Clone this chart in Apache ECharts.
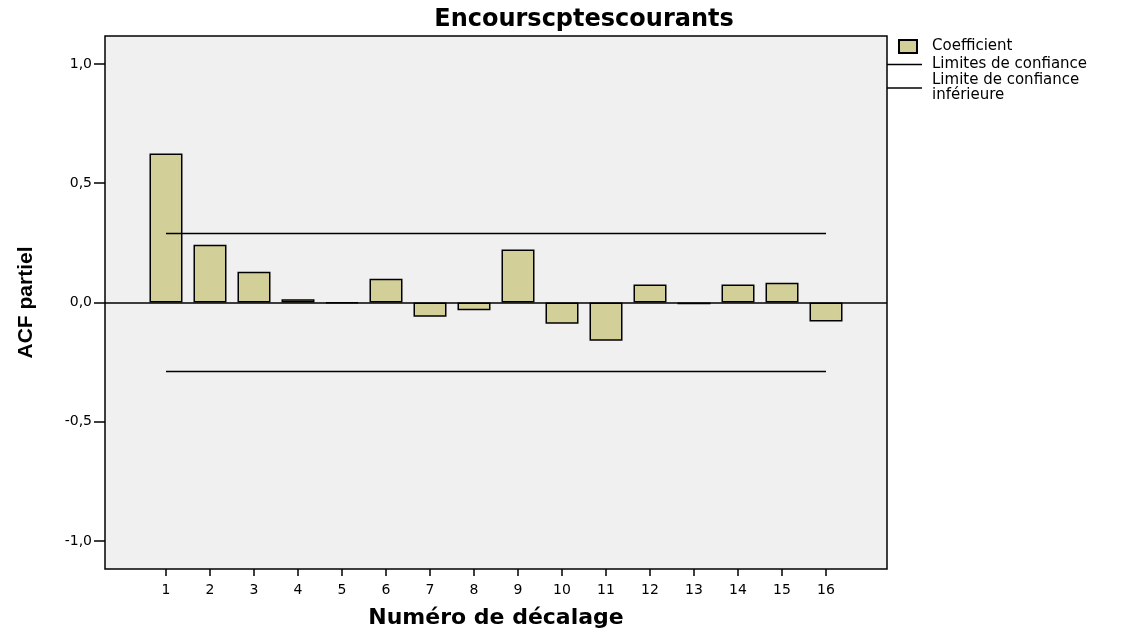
<!DOCTYPE html>
<html>
<head>
<meta charset="utf-8">
<title>Encourscptescourants</title>
<script src="https://cdn.jsdelivr.net/npm/echarts@6/dist/echarts.min.js"></script>
<style>
    html, body { margin: 0; padding: 0; background: #fff; }
    #chart { width: 1128px; height: 634px; }
</style>
</head>
<body>
<div id="chart"></div>
<script>
// numéros de décalage et ACF partiel
const lags = [1, 2, 3, 4, 5, 6, 7, 8, 9, 10, 11, 12, 13, 14, 15, 16];
const pacf = [0.625, 0.242, 0.129, 0.014, -0.003, 0.100, -0.060, -0.033,
              0.222, -0.089, -0.160, 0.075, -0.007, 0.075, 0.083, -0.080];
const confLimits = [0.289, -0.289];
const yTicks = [-1, -0.5, 0, 0.5, 1];

const chart = echarts.init(document.getElementById('chart'));

const fmtComma = v => v.toFixed(1).replace('.', ',');
const lineEnds = v => [[lags[0], v], [lags[lags.length - 1], v]];

// petit trait noir pour les limites dans la légende
const lineIcon = name => ({
    name: name,
    icon: 'rect',
    itemStyle: {color: '#000', borderWidth: 0}
});

const option = {
    backgroundColor: '#ffffff',
    animation: false,
    title: {
        text: 'Encourscptescourants',
        left: 584,
        top: 8,
        textAlign: 'center',
        padding: 0,
        textStyle: {
            fontFamily: 'DejaVu Sans',
            fontSize: 24,
            fontWeight: 'bold',
            color: '#000'
        }
    },
    legend: [
        {
            data: [{name: 'Coefficient', icon: 'rect'}],
            left: 898,
            top: 39,
            padding: 0,
            orient: 'vertical',
            itemWidth: 18,
            itemHeight: 13,
            selectedMode: false,
            textStyle: {
                fontFamily: 'DejaVu Sans',
                fontSize: 15,
                color: '#000',
                padding: [0, 0, 0, 10]
            }
        },
        {
            data: [lineIcon('Limites de confiance'), lineIcon('Limite de confiance inférieure')],
            left: 887,
            top: 57,
            padding: 0,
            orient: 'vertical',
            itemWidth: 35,
            itemHeight: 1.5,
            itemGap: 1,
            selectedMode: false,
            formatter: name => name === 'Limite de confiance inférieure'
                ? 'Limite de confiance\ninférieure' : name,
            textStyle: {
                fontFamily: 'DejaVu Sans',
                fontSize: 15,
                lineHeight: 15,
                color: '#000',
                padding: [0, 0, 0, 5]
            }
        }
    ],
    grid: {
        show: true,
        left: 105,
        right: 241,
        top: 36,
        bottom: 62,
        backgroundColor: '#f0f0f0',
        borderColor: '#000',
        borderWidth: 1.5
    },
    xAxis: {
        type: 'value',
        min: -0.386,
        max: 17.386,
        name: 'Numéro de décalage',
        nameLocation: 'middle',
        nameGap: 38,
        nameTextStyle: {
            fontFamily: 'DejaVu Sans',
            fontSize: 22,
            fontWeight: 'bold',
            color: '#000'
        },
        axisLine: {show: false, onZero: false},
        splitLine: {show: false},
        axisTick: {
            show: true,
            length: 7,
            customValues: lags,
            lineStyle: {color: '#000', width: 1.5}
        },
        axisLabel: {
            customValues: lags,
            margin: 14,
            fontFamily: 'DejaVu Sans',
            fontSize: 14,
            color: '#000'
        }
    },
    yAxis: {
        type: 'value',
        min: -1.117,
        max: 1.117,
        name: 'ACF partiel',
        nameLocation: 'middle',
        nameGap: 68,
        nameTextStyle: {
            fontFamily: 'Liberation Sans',
            fontSize: 21,
            fontWeight: 'bold',
            color: '#000'
        },
        axisLine: {show: false, onZero: false},
        splitLine: {show: false},
        axisTick: {
            show: true,
            length: 11,
            customValues: yTicks,
            lineStyle: {color: '#000', width: 1.5}
        },
        axisLabel: {
            customValues: yTicks,
            margin: 13,
            formatter: fmtComma,
            fontFamily: 'DejaVu Sans',
            fontSize: 14,
            color: '#000'
        }
    },
    series: [
        {
            name: 'Coefficient',
            type: 'bar',
            barWidth: 33,
            data: lags.map((l, i) => [l, pacf[i]]),
            itemStyle: {
                color: '#d3cf98',
                borderColor: '#000',
                borderWidth: 1.5
            },
            markLine: {
                silent: true,
                symbol: 'none',
                label: {show: false},
                lineStyle: {color: '#000', width: 1.5, type: 'solid'},
                data: [{yAxis: 0}]
            }
        },
        {
            name: 'Limites de confiance',
            type: 'line',
            symbol: 'none',
            data: lineEnds(confLimits[0]),
            lineStyle: {color: '#000', width: 1.5},
            itemStyle: {color: '#000'}
        },
        {
            name: 'Limite de confiance inférieure',
            type: 'line',
            symbol: 'none',
            data: lineEnds(confLimits[1]),
            lineStyle: {color: '#000', width: 1.5},
            itemStyle: {color: '#000'}
        }
    ]
};

chart.setOption(option);
</script>
</body>
</html>
